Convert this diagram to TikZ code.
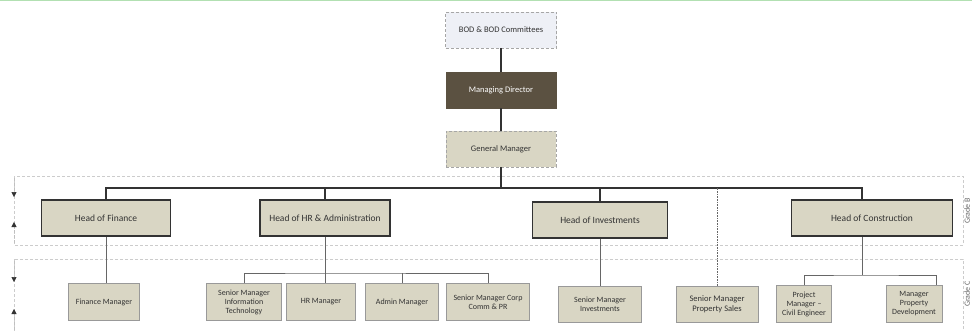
\documentclass[tikz,border=0pt]{standalone}
\usepackage{fontspec}
\setmainfont{Carlito}
\usepackage{tikz}
\usetikzlibrary{arrows.meta, positioning}

\definecolor{beige}{HTML}{D9D6C4}
\definecolor{mdbrown}{HTML}{5B5141}
\definecolor{bodfill}{HTML}{EEF0F6}
\definecolor{ink}{HTML}{333333}

\begin{document}
\begin{tikzpicture}[
    x=1pt, y=-1pt,
    top/.style={rectangle, draw=gray!70, densely dashed, minimum width=110pt,
                minimum height=36pt, font=\fontsize{8.5}{10}\selectfont, align=center,
                fill=beige, text=ink},
    head/.style={rectangle, draw=ink, line width=1.6pt, minimum height=36pt,
                 font=\fontsize{9.5}{11}\selectfont, align=center, fill=beige, text=ink},
    sub/.style={rectangle, draw=gray!80, minimum height=37pt, inner sep=1pt,
                font=\fontsize{8}{9}\selectfont, align=center, fill=beige, text=ink},
    link/.style={line width=1.4pt, ink},
    thin/.style={gray!80!black, line width=0.6pt},
    band/.style={gray!40, densely dashed, line width=0.5pt},
    tip/.style={-{Triangle[length=5pt, width=5pt, color=ink]}, gray!50, densely dashed, line width=0.5pt},
    grade/.style={rotate=90, font=\fontsize{8}{9}\selectfont, text=gray!80!black}
]
\useasboundingbox (0,0) rectangle (972,330);
\draw[green!60!black!30, line width=1pt] (0,0.5) -- (972,0.5);

% grade bands
\draw[band] (14,176) rectangle (963,245);
\draw[band] (14,259) rectangle (963,332);
\draw[tip] (14,178) -- (14,197); \draw[tip] (14,243) -- (14,222);
\draw[tip] (14,261) -- (14,282); \draw[tip] (14,330) -- (14,309);
\node[grade] (gb) at (967,211) {Grade B};
\node[grade] (gc) at (967,294) {Grade C};

% top of the chart
\node[top, fill=bodfill, minimum width=111pt] (bod) at (501,30) {BOD \& BOD Committees};
\node[top, fill=mdbrown, draw=mdbrown, solid, text=white] (md) at (501,90) {Managing Director};
\node[top] (gm) at (501,149) {General Manager};

% heads
\node[head, minimum width=129pt] (hof)  at (106,218) {Head of Finance};
\node[head, minimum width=130pt] (hhr)  at (325,218) {Head of HR \& Administration};
\node[head, minimum width=135pt] (hinv) at (600,220) {Head of Investments};
\node[head, minimum width=161pt] (hcon) at (872,218) {Head of Construction};

% managers
\node[sub, minimum width=71pt] (finm)  at (104,302) {Finance Manager};
\node[sub, minimum width=75pt] (smit)  at (244,302) {Senior Manager\\Information\\Technology};
\node[sub, minimum width=69pt] (hrm)   at (321,302) {HR Manager};
\node[sub, minimum width=73pt] (adm)   at (402,302) {Admin Manager};
\node[sub, minimum width=83pt] (smcc)  at (488,302) {Senior Manager Corp\\Comm \& PR};
\node[sub, minimum width=83pt, minimum height=36pt] (sminv) at (600,304) {Senior Manager\\Investments};
\node[sub, minimum width=82pt, minimum height=36pt, font=\fontsize{8.5}{10}\selectfont] (smps) at (717,304) {Senior Manager\\Property Sales};
\node[sub, minimum width=55pt] (pmce)  at (804,304) {Project\\Manager --\\Civil Engineer};
\node[sub, minimum width=56pt] (mpd)   at (914,304) {Manager\\Property\\Development};

\coordinate (bus) at (501,188);
\coordinate (hrbus) at (325,273);
\coordinate (conbus) at (862,275);

\draw[link] (bod) -- (md); \draw[link] (md) -- (gm);
\draw[link] (gm) -- (bus);
\draw[link] (hof.north) |- (bus) -| ([xshift=-10pt]hcon.north);
\draw[link] (hhr.north) -- (hhr.north |- bus);
\draw[link] (hinv.north) -- (hinv.north |- bus);
\draw[thin, densely dotted, line width=0.9pt] (smps.north) -- (smps.north |- bus);

\draw[thin] (hof.south) -- (hof.south |- finm.north);
\draw[thin] (hhr.south) -- (hhr.south |- hrm.north);
\draw[thin] (smit.north) |- (hrbus) -| (smcc.north);
\draw[thin] (adm.north) -- (adm.north |- hrbus);
\draw[thin] (hinv.south) -- (sminv.north);
\draw[thin] ([xshift=-10pt]hcon.south) -- (conbus);
\draw[thin] (pmce.north) |- (conbus) -| ([xshift=-6pt]mpd.north east);
\end{tikzpicture}
\end{document}
